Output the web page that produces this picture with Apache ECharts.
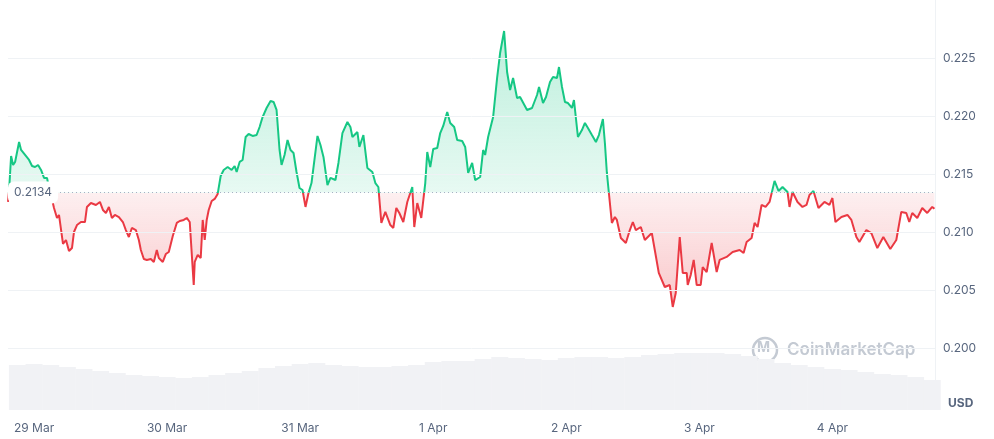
<!DOCTYPE html>
<html>
<head>
<meta charset="utf-8">
<script src="https://cdn.jsdelivr.net/npm/echarts@6/dist/echarts.min.js"></script>
<style>html,body{margin:0;padding:0;background:#fff}#main{width:994px;height:439px}</style>
</head>
<body>
<div id="main"></div>
<script>
// hours since 29 Mar 00:00
var hours = [-4.7,-4.5,-4.14,-3.78,-3.42,-2.7,-2.34,-1.62,-0.9,-0.36,0.18,0.72,1.26,1.8,2.34,2.7,3.06,3.6,4.14,4.5,5.22,5.76,6.3,6.84,7.2,7.74,8.46,9.18,9.54,10.26,11.16,11.88,12.42,12.96,13.5,14.04,14.58,15.3,16.02,16.56,17.1,17.64,18.36,18.9,19.26,19.8,20.34,21.06,21.6,22.14,22.5,23.22,23.76,24.3,25.02,25.74,26.28,27,27.54,28.08,28.8,28.98,29.52,30.06,30.42,30.78,31.14,31.5,32.04,32.58,33.12,33.66,34.2,34.92,35.64,36.18,36.54,37.08,37.62,38.16,38.7,39.42,40.14,40.68,41.22,41.94,42.66,43.2,43.74,44.28,44.64,45.18,45.72,46.26,46.8,47.34,47.88,48.42,48.96,49.5,50.04,50.4,51.12,51.66,52.2,52.92,53.46,54.36,54.9,55.62,56.52,57.06,57.42,58.32,58.68,59.4,60.12,61.02,61.56,62.1,62.64,63.36,64.26,64.8,65.34,65.88,66.6,67.32,68.22,68.58,69.12,69.84,70.56,70.92,71.46,72,72.72,73.26,73.8,74.52,75.06,75.78,76.32,77.22,77.76,78.3,79.02,79.56,80.46,81,81.36,81.9,82.8,83.52,84.06,84.78,85.32,85.86,86.4,87.12,87.66,88.92,89.82,90.72,91.08,91.8,92.34,93.06,93.6,94.32,94.68,95.22,95.76,96.3,97.02,97.38,98.1,98.82,99.36,99.9,100.62,101.34,101.88,102.6,102.96,103.32,103.68,104.22,104.76,105.12,105.84,106.74,107.46,108,108.54,109.44,110.16,111.42,111.96,112.68,113.76,114.66,115.2,115.74,116.46,117,117.72,117.9,118.44,118.98,119.52,120.24,120.6,121.32,122.22,123.12,123.66,124.92,126,127.26,127.98,128.52,129.42,129.96,130.5,131.22,131.94,132.66,133.56,134.28,135,135.9,136.26,136.8,137.7,138.6,139.32,139.86,140.58,141.48,142.56,143.46,144,144.54,145.62,146.7,147.42,148.32,148.86,150.12,151.02,152.1,153.18,154.44,155.52,156.42,157.32,157.86,158.4,159.3,160.2,161.1,162,162.4];
var prices = [0.2126,0.21362,0.21655,0.21578,0.21604,0.21776,0.21707,0.21664,0.21621,0.21569,0.2156,0.21578,0.21535,0.21466,0.21466,0.21379,0.21319,0.21207,0.21121,0.21147,0.20897,0.20931,0.20836,0.20862,0.21,0.2106,0.21086,0.21086,0.21216,0.2125,0.21233,0.21259,0.2119,0.21164,0.21216,0.21121,0.21147,0.21129,0.21086,0.21017,0.20957,0.21035,0.21017,0.20931,0.20845,0.20767,0.20759,0.20767,0.20742,0.20845,0.20776,0.20742,0.2081,0.20828,0.20966,0.21078,0.21095,0.21104,0.21121,0.21086,0.20543,0.20742,0.20802,0.20776,0.21104,0.20931,0.21104,0.2119,0.21267,0.21285,0.21328,0.21483,0.21535,0.2156,0.21535,0.21569,0.21517,0.21604,0.21621,0.21819,0.21845,0.21828,0.21836,0.21905,0.21991,0.22069,0.22129,0.22121,0.22052,0.21707,0.21578,0.21664,0.21793,0.21707,0.21681,0.21517,0.21379,0.21362,0.21216,0.21336,0.21422,0.21422,0.21828,0.2175,0.21647,0.21405,0.21466,0.21448,0.21595,0.21853,0.21948,0.21905,0.21819,0.21862,0.21733,0.21836,0.21552,0.21517,0.21422,0.21388,0.21078,0.21173,0.2106,0.21035,0.21207,0.21164,0.21086,0.21259,0.21388,0.21043,0.2125,0.21121,0.21422,0.2169,0.2156,0.21716,0.21724,0.21853,0.21914,0.22035,0.2194,0.21905,0.21793,0.21785,0.21733,0.21509,0.21595,0.21448,0.21474,0.21707,0.21664,0.21819,0.21991,0.22328,0.22543,0.22733,0.22379,0.22224,0.22328,0.22155,0.22164,0.22052,0.22069,0.22181,0.2225,0.22112,0.22164,0.22293,0.22336,0.22328,0.22422,0.2225,0.22121,0.22112,0.22069,0.22138,0.21819,0.21879,0.2194,0.21897,0.21836,0.21776,0.21836,0.21974,0.21767,0.21509,0.21336,0.21078,0.21129,0.21104,0.20948,0.20905,0.21017,0.21086,0.21017,0.21043,0.20931,0.20991,0.20845,0.20647,0.20526,0.20543,0.20354,0.20474,0.20957,0.20647,0.20647,0.20543,0.20629,0.20759,0.20543,0.20543,0.20698,0.20655,0.20905,0.20655,0.20759,0.20785,0.20828,0.20845,0.20819,0.20914,0.20948,0.21078,0.21043,0.21233,0.21216,0.21259,0.2144,0.21354,0.21388,0.21345,0.21216,0.21345,0.21259,0.21216,0.21233,0.21319,0.21354,0.21207,0.21259,0.21233,0.21293,0.21086,0.21129,0.21147,0.21104,0.20957,0.20914,0.21017,0.20991,0.20862,0.20957,0.20854,0.20931,0.21173,0.21164,0.21086,0.21164,0.21121,0.21207,0.21164,0.21216,0.212];
// volume (relative), every 3 hours from -3h
var volHours = [];
for (var i = 0; i < 56; i++) { volHours.push(-3 + i * 3); }
var volumes = [45,46,45,43,41,39,37,35,34,33,32,33,35,37,39,42,44,46,47,45,44,43,43,44,45,48,49,49,51,53,52,51,50,52,53,53,52,53,55,56,57,57,57,56,54,51,47,45,43,41,40,38,36,35,33,30];
var dayLabels = ['29 Mar','30 Mar','31 Mar','1 Apr','2 Apr','3 Apr','4 Apr'];
var dayTicks = [0, 24, 48, 72, 96, 120, 144];
var priceTicks = [0.2, 0.205, 0.21, 0.215, 0.22, 0.225];
var openPrice = 0.2134;
var lastPrice = 0.212;

var yMin = 0.195, yMax = 0.23;
var priceData = [];
for (var i = 0; i < hours.length; i++) { priceData.push([hours[i], prices[i]]); }
var volData = [];
for (var i = 0; i < volumes.length; i++) { volData.push([volHours[i], volumes[i]]); }

var green = '#16c784', red = '#ea3943';
var plotH = 406;
var f = (yMax - openPrice) / (yMax - yMin); // split point inside the plot height
var lineGrad = new echarts.graphic.LinearGradient(0, 0, 0, plotH, [
  { offset: 0, color: green }, { offset: f, color: green },
  { offset: f, color: red }, { offset: 1, color: red }
], true);
var areaGrad = new echarts.graphic.LinearGradient(0, 0, 0, plotH, [
  { offset: 0, color: 'rgba(22,199,132,0.32)' }, { offset: f, color: 'rgba(22,199,132,0.10)' },
  { offset: f, color: 'rgba(234,57,67,0.08)' }, { offset: 0.75, color: 'rgba(234,57,67,0.28)' }, { offset: 1, color: 'rgba(234,57,67,0.3)' }
], true);

var chart = echarts.init(document.getElementById('main'));

chart.setOption({
  animation: false,
  grid: [
    { left: 8, right: 59, top: 0, bottom: 33 },
    { left: 8, right: 59, top: 345, bottom: 29 }
  ],
  xAxis: [
    { gridIndex: 0, type: 'value', min: -4.7, max: 162.5, show: false },
    {
      gridIndex: 1, type: 'value', min: -4.7, max: 162.5,
      axisLine: { show: false }, axisTick: { show: false }, splitLine: { show: false },
      axisLabel: {
        customValues: dayTicks,
        color: '#58667e', fontSize: 12, margin: 12, fontFamily: 'Inter',
        formatter: function (v) { return dayLabels[dayTicks.indexOf(v)] || ''; }
      }
    }
  ],
  yAxis: [
    {
      gridIndex: 0, type: 'value', position: 'right', min: yMin, max: yMax,
      axisLine: { show: true, onZero: false, lineStyle: { color: '#eff2f5' } }, axisTick: { show: false },
      splitLine: { show: false },
      axisLabel: {
        customValues: priceTicks,
        color: '#58667e', fontSize: 12, margin: 8, fontFamily: 'Inter',
        formatter: function (v) { return v.toFixed(3); }
      }
    },
    { gridIndex: 1, type: 'value', min: 0, max: 65, show: false }
  ],
  graphic: [
    { type: 'text', left: 948, top: 397, style: { text: 'USD', fill: '#58667e', font: 'bold 12px Inter' } },
    { type: 'circle', shape: { cx: 765, cy: 350, r: 12 }, style: { fill: 'none', stroke: '#c4cad3', lineWidth: 2.5 } },
    { type: 'text', left: 757, top: 341, style: { text: 'M', fill: '#c4cad3', font: 'bold 14px Inter' } },
    { type: 'text', left: 787, top: 341, style: { text: 'CoinMarketCap', fill: '#c4cad3', font: '600 17px Inter' } }
  ],
  series: [
    {
      type: 'bar', xAxisIndex: 1, yAxisIndex: 1, data: volData,
      barWidth: 17, itemStyle: { color: '#f1f2f5' }, silent: true
    },
    {
      type: 'line', xAxisIndex: 0, yAxisIndex: 0, data: priceData,
      symbol: 'none', lineStyle: { width: 2, color: lineGrad }, itemStyle: { color: green }, z: 3,
      areaStyle: { origin: openPrice, color: areaGrad, opacity: 1 },
      markLine: {
        silent: true, symbol: 'none', precision: 4,
        data: priceTicks.map(function (v) { return { yAxis: v, lineStyle: { type: 'solid', color: '#eff2f5', width: 1 }, label: { show: false } }; }).concat([
          {
            yAxis: openPrice,
            lineStyle: { type: [1, 3], color: '#a6b0c3', width: 1 },
            label: { position: 'insideStart', distance: 0, formatter: '0.2134', color: '#58667e', fontSize: 12, fontFamily: 'Inter', backgroundColor: '#fff', padding: [5, 6], borderRadius: 6 }
          },
          {
            yAxis: lastPrice,
            lineStyle: { opacity: 0 },
            label: { position: 'end', distance: 2, formatter: '0.212', color: '#fff', fontWeight: 'bold', fontSize: 13, fontFamily: 'Inter', backgroundColor: red, padding: [6, 6], borderRadius: 4 }
          }
        ])
      }
    }
  ]
});
</script>
</body>
</html>
